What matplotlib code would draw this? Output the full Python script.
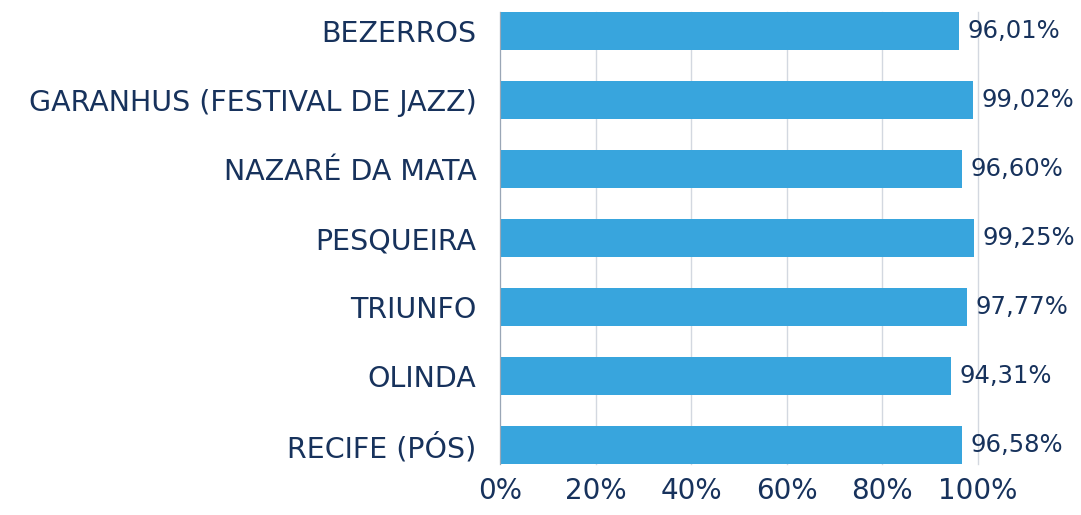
import matplotlib.pyplot as plt
from matplotlib.ticker import FuncFormatter

categorias = ["BEZERROS", "GARANHUS (FESTIVAL DE JAZZ)", "NAZARÉ DA MATA",
              "PESQUEIRA", "TRIUNFO", "OLINDA", "RECIFE (PÓS)"]
valores = [96.01, 99.02, 96.60, 99.25, 97.77, 94.31, 96.58]
rotulos = ["96,01%", "99,02%", "96,60%", "99,25%", "97,77%", "94,31%", "96,58%"]

azul = "#38A5DD"
texto = "#17325C"

plt.rcParams['font.family'] = ['DejaVu Sans']

fig = plt.figure(figsize=(10.81, 5.15), dpi=100)
ax = fig.add_axes([0.4625, 0.099, 0.4422, 0.8777])

y = list(range(len(categorias)))
altura = 0.55
ax.barh(y, valores, height=altura, color=azul, zorder=2)

for yi, v, r in zip(y, valores, rotulos):
    ax.text(v + 1.8, yi, r, va='center', ha='left', fontsize=17.5, color=texto, zorder=3)

ax.set_xlim(0, 100)
ax.set_ylim(len(categorias) - 1 + altura / 2, -altura / 2)
ax.set_xticks(range(0, 101, 20))
ax.xaxis.set_major_formatter(FuncFormatter(lambda v, p: f"{int(v)}%"))
ax.set_yticks(y)
ax.set_yticklabels(categorias)

ax.tick_params(axis='x', length=0, pad=9, labelsize=20, labelcolor=texto)
ax.tick_params(axis='y', length=0, pad=17, labelsize=20.5, labelcolor=texto)

ax.grid(axis='x', color="#D3D8E0", linewidth=1, zorder=0, clip_on=False)
for s in ['top', 'right', 'bottom']:
    ax.spines[s].set_visible(False)
ax.spines['left'].set_color("#9AA6B6")
ax.spines['left'].set_zorder(3)

fig.savefig("out.png", dpi=100)
